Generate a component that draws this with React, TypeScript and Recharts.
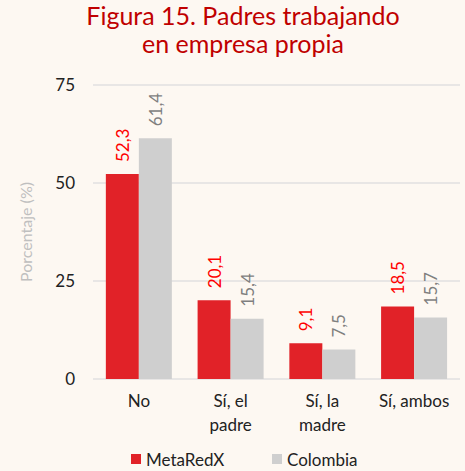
import React from "react";
import { BarChart, Bar, XAxis, YAxis, CartesianGrid, Legend, LabelList } from "recharts";

const categories = ["No", "Sí, el padre", "Sí, la madre", "Sí, ambos"];
const tickLines: Record<string, string[]> = {
  "No": ["No"],
  "Sí, el padre": ["Sí, el", "padre"],
  "Sí, la madre": ["Sí, la", "madre"],
  "Sí, ambos": ["Sí, ambos"],
};
const metaRedX = [52.3, 20.1, 9.1, 18.5];
const colombia = [61.4, 15.4, 7.5, 15.7];
const yTicks = [0, 25, 50, 75];
const seriesNames = ["MetaRedX", "Colombia"];

const data = categories.map((c, i) => ({ name: c, MetaRedX: metaRedX[i], Colombia: colombia[i] }));

const FONT = "Lato, 'Noto Sans', sans-serif";
const RED = "#e12228";
const GRAY = "#cfcfcf";
const colors: Record<string, string> = { MetaRedX: RED, Colombia: GRAY };

const fmt = (v: number) => v.toFixed(1).replace(".", ",");

const makeLabel = (color: string) => (props: any) => {
  const { x, y, width, value } = props;
  const cx = x + width / 2;
  const ty = y - 12;
  return (
    <text
      x={cx}
      y={ty}
      transform={`rotate(-90, ${cx}, ${ty})`}
      textAnchor="start"
      dominantBaseline="central"
      fill={color}
      fontSize={17}
      fontFamily={FONT}
    >
      {fmt(value)}
    </text>
  );
};

const XTick = (props: any) => {
  const { x, y, payload } = props;
  const lines = tickLines[payload.value] || [payload.value];
  return (
    <text x={x} y={y + 20} textAnchor="middle" fill="#222" fontSize={17} fontFamily={FONT}>
      {lines.map((l, i) => (
        <tspan key={i} x={x} dy={i === 0 ? 0 : 24}>
          {l}
        </tspan>
      ))}
    </text>
  );
};

const LegendContent = () => (
  <div style={{ position: "relative", height: 20, fontFamily: FONT, fontSize: 17, color: "#222" }}>
    {seriesNames.map((n, i) => (
      <div
        key={n}
        style={{ position: "absolute", left: i === 0 ? 131 : 272, top: 0, display: "flex", alignItems: "center", height: 20 }}
      >
        <span style={{ display: "inline-block", width: 10, height: 10, background: colors[n], marginRight: 5 }} />
        <span>{n}</span>
      </div>
    ))}
  </div>
);

export default function App() {
  return (
    <div style={{ position: "absolute", left: 0, top: 0, width: 465, height: 471, background: "#fdf8f2", fontFamily: FONT }}>
      <div
        style={{
          position: "absolute",
          left: 0,
          top: 1,
          width: 486,
          textAlign: "center",
          color: "#c00000",
          fontSize: 25,
          lineHeight: "28px",
        }}
      >
        Figura 15. Padres trabajando
        <br />
        en empresa propia
      </div>
      <BarChart
        width={465}
        height={471}
        data={data}
        margin={{ top: 85, right: 5, bottom: 0, left: 0 }}
        barCategoryGap="14%"
        barGap={0}
      >
        <CartesianGrid vertical={false} stroke="#e0e0e0" strokeWidth={1.5} />
        <XAxis dataKey="name" tick={<XTick />} tickLine={false} axisLine={false} interval={0} height={72} />
        <YAxis
          domain={[0, 75]}
          ticks={yTicks}
          tickLine={false}
          axisLine={false}
          width={93}
          tick={{ fill: "#222", fontSize: 17, fontFamily: FONT, dx: -10 }}
          label={{
            value: "Porcentaje (%)",
            angle: -90,
            position: "insideLeft",
            offset: 26,
            style: { fill: "#bfbfbf", fontSize: 16, fontFamily: FONT, textAnchor: "middle" },
          }}
        />
        <Legend verticalAlign="bottom" content={<LegendContent />} wrapperStyle={{ left: 0, bottom: 2, width: 465 }} />
        <Bar dataKey="MetaRedX" fill={RED} isAnimationActive={false}>
          <LabelList dataKey="MetaRedX" content={makeLabel("#ff0000")} />
        </Bar>
        <Bar dataKey="Colombia" fill={GRAY} isAnimationActive={false}>
          <LabelList dataKey="Colombia" content={makeLabel("#7f7f7f")} />
        </Bar>
      </BarChart>
    </div>
  );
}
